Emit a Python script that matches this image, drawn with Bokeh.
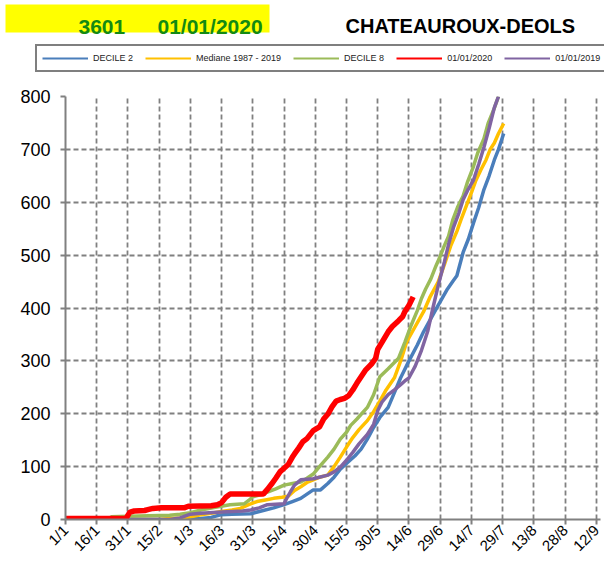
import math
from bokeh.plotting import figure
from bokeh.layouts import column
from bokeh.models import Range1d, FixedTicker, Legend, LegendItem
from bokeh.core.properties import value
from bokeh.embed import file_html
from bokeh.resources import INLINE

# ---- data (day index from 1/1) ----
tick_days = [0, 15, 30, 45, 60, 75, 90, 105, 120, 135, 150, 165, 180, 195, 210, 225, 240, 255]
tick_labels = ["1/1", "16/1", "31/1", "15/2", "1/3", "16/3", "31/3", "15/4", "30/4", "15/5",
               "30/5", "14/6", "29/6", "14/7", "29/7", "13/8", "28/8", "12/9"]
y_ticks = [0, 100, 200, 300, 400, 500, 600, 700, 800]

decile2_days = [0, 55, 60, 65, 70, 74.5, 80, 89, 95, 100, 105, 109, 113, 116, 119, 122.5, 126, 129, 132,
                135.5, 139, 142, 145, 148, 151, 155, 158, 161, 165, 169, 172, 175.5, 179, 183.5, 186, 188,
                191, 193.5, 196, 198.5, 201, 203.5, 206, 208, 210.5]
decile2_vals = [0, 0, 1, 2, 4, 9, 10, 11, 17, 22, 28, 34, 40, 48, 56, 56, 68, 80, 95,
                108, 120, 133, 152, 174, 193, 212, 240, 268, 300, 330, 355, 380, 405, 436, 450, 461,
                505, 530, 561, 590, 624, 650, 680, 700, 730]

median_days = [0, 45, 50, 55, 60, 65, 70, 75, 80, 84, 88, 92, 96, 100, 104, 107, 110, 113, 116, 119, 122,
               126, 129, 132, 135, 138, 141, 145, 148, 151, 154, 158, 161, 164, 168, 172, 175, 179, 182,
               185, 188, 190, 193, 195, 197, 199.5, 202, 204, 206, 208, 210.5]
median_vals = [0, 0, 2, 3, 5, 9, 12, 15, 18, 21, 28, 34, 37, 40, 42, 44, 55, 62, 70, 75, 80,
               84, 100, 118, 137, 155, 170, 187, 204, 224, 245, 268, 300, 337, 365, 393, 420, 449, 482,
               517, 545, 567, 598, 618, 640, 661, 680, 700, 712, 730, 749]

decile8_days = [0, 20, 22, 30, 40, 50, 55, 60, 65, 72, 79, 86, 88, 90, 94, 97, 101, 105, 109, 113, 116,
                119, 122, 126, 129, 132, 135, 137, 140, 145, 148, 151, 155, 160, 163, 166, 169, 171, 173,
                175.5, 178, 180, 182, 184, 186, 188.5, 191, 193, 196, 198, 201, 203, 206, 208]
decile8_vals = [0, 0, 5, 6, 7, 8, 10, 13, 18, 23, 28, 30, 36, 43, 47, 52, 58, 65, 68, 71, 78,
                86, 100, 118, 133, 152, 165, 178, 190, 212, 236, 270, 285, 305, 335, 367, 395, 418, 436,
                455, 480, 498, 518, 536, 566, 592, 612, 637, 668, 693, 720, 749, 778, 800]

y2020_days = [0, 29, 30, 31, 33, 38, 40, 42, 46, 57, 59, 70, 73, 75, 77, 79, 95, 97, 99, 101, 103, 105,
              107, 109, 110, 112, 114, 116, 119, 122, 124, 126, 128, 130, 132, 134, 136, 138, 140, 142,
              144, 147, 149, 150, 152, 155, 157, 160, 162, 163, 165, 167]
y2020_vals = [2, 2, 8, 14, 16, 17, 19, 21, 22, 22, 25, 26, 28, 32, 42, 48, 48, 57, 67, 78, 90, 97,
              104, 118, 124, 135, 147, 153, 168, 175, 190, 199, 213, 224, 227, 229, 234, 245, 258, 270,
              282, 294, 305, 322, 335, 355, 365, 376, 384, 393, 405, 421]

y2019_days = [0, 50, 55, 60, 65, 75, 85, 89, 93, 97, 101, 105, 106, 108, 110, 113, 116, 119, 122, 126,
              129, 132, 135, 138, 141, 145, 148, 150, 152, 155, 158, 161, 163, 165, 168, 171, 174, 176.5,
              179, 182, 184, 186.5, 189, 191, 193.5, 196, 198.5, 201, 203.5, 206, 208]
y2019_vals = [0, 0, 3, 10, 12, 14, 16, 18, 22, 28, 29, 30, 38, 52, 65, 75, 76, 77, 80, 84,
              90, 99, 112, 127, 143, 161, 180, 206, 222, 236, 245, 255, 262, 268, 290, 320, 356, 400,
              442, 487, 520, 554, 580, 605, 625, 642, 672, 704, 740, 779, 800]

series_names = ["DECILE 2", "Mediane 1987 - 2019", "DECILE 8", "01/01/2020", "01/01/2019"]
series_colors = ["#4a7ebb", "#ffc000", "#9bbb59", "#ff0000", "#8064a2"]
station_code = "3601"
station_date = "01/01/2020"
station_name = "CHATEAUROUX-DEOLS"

FONT = "Liberation Sans"
W = 604
HEAD_H = 88

# ---------------- header (title + legend) ----------------
head = figure(width=W, height=HEAD_H, output_backend="svg", toolbar_location=None,
              x_range=Range1d(0, W), y_range=Range1d(0, HEAD_H),
              min_border=0, min_border_left=0, min_border_right=0,
              min_border_top=0, min_border_bottom=0)
head.frame_align = False
head.axis.visible = False
head.grid.visible = False
head.outline_line_color = None

head.quad(left=[5], right=[269], bottom=[HEAD_H - 32], top=[HEAD_H - 4],
          fill_color="yellow", line_color=None)
head.text(x=[78, 157], y=[HEAD_H - 26, HEAD_H - 26], text=[station_code, station_date],
          text_font=value(FONT), text_font_style="bold", text_font_size="21px",
          text_color="#138a13", text_baseline="alphabetic", text_align="left")
head.text(x=[345], y=[HEAD_H - 25], text=[station_name],
          text_font=value(FONT), text_font_style="bold", text_font_size="20px",
          text_color="black", text_baseline="alphabetic", text_align="left")

nan = float("nan")
legend_renderers = [head.line(x=[nan, nan], y=[nan, nan], line_color=c, line_width=2)
                    for c in series_colors]
legend = Legend(items=[LegendItem(label=n, renderers=[r]) for n, r in
                       zip(series_names, legend_renderers)],
                orientation="horizontal", location=(35, HEAD_H - 72),
                glyph_width=46, glyph_height=14, label_height=14, label_standoff=5,
                spacing=12, padding=5, margin=0,
                label_text_font=FONT, label_text_font_size="9px", label_text_color="#222222",
                border_line_color="black", border_line_width=2,
                background_fill_color="white", background_fill_alpha=1.0)
head.add_layout(legend, "center")

# ---------------- main chart ----------------
p = figure(width=W, height=563 - HEAD_H, output_backend="svg", toolbar_location=None,
           x_range=Range1d(0, 257), y_range=Range1d(0, 800),
           min_border_left=65, min_border_right=4, min_border_top=96 - HEAD_H, min_border_bottom=40)
p.frame_align = False
p.outline_line_color = None
p.background_fill_color = "white"

for g in (p.xgrid, p.ygrid):
    g.grid_line_color = "#808080"
    g.grid_line_dash = "5 3"
    g.grid_line_width = 1.8

p.xaxis.ticker = FixedTicker(ticks=tick_days)
p.xaxis.major_label_overrides = {d: l for d, l in zip(tick_days, tick_labels)}
p.xaxis.major_label_orientation = math.pi / 4
p.yaxis.ticker = FixedTicker(ticks=y_ticks)
for ax in (p.xaxis[0], p.yaxis[0]):
    ax.axis_line_color = "#808080"
    ax.axis_line_width = 2
    ax.major_tick_line_color = "#808080"
    ax.major_tick_line_width = 2
    ax.major_tick_in = 0
    ax.major_tick_out = 5
    ax.minor_tick_line_color = None
    ax.major_label_text_font = FONT
    ax.major_label_text_color = "black"
p.yaxis.major_label_text_font_size = "18px"
p.yaxis.major_label_standoff = 10
p.xaxis.major_label_text_font_size = "15px"
p.xaxis.major_label_standoff = 3

all_days = [decile2_days, median_days, decile8_days, y2020_days, y2019_days]
all_vals = [decile2_vals, median_vals, decile8_vals, y2020_vals, y2019_vals]
widths = [3.5, 3.5, 3.5, 5.5, 3.5]
order = [0, 1, 2, 4, 3]  # red drawn on top
for i in order:
    p.line(all_days[i], all_vals[i], line_color=series_colors[i], line_width=widths[i])

layout = column(head, p, spacing=0)
open("out.html", "w").write(file_html(layout, INLINE))
